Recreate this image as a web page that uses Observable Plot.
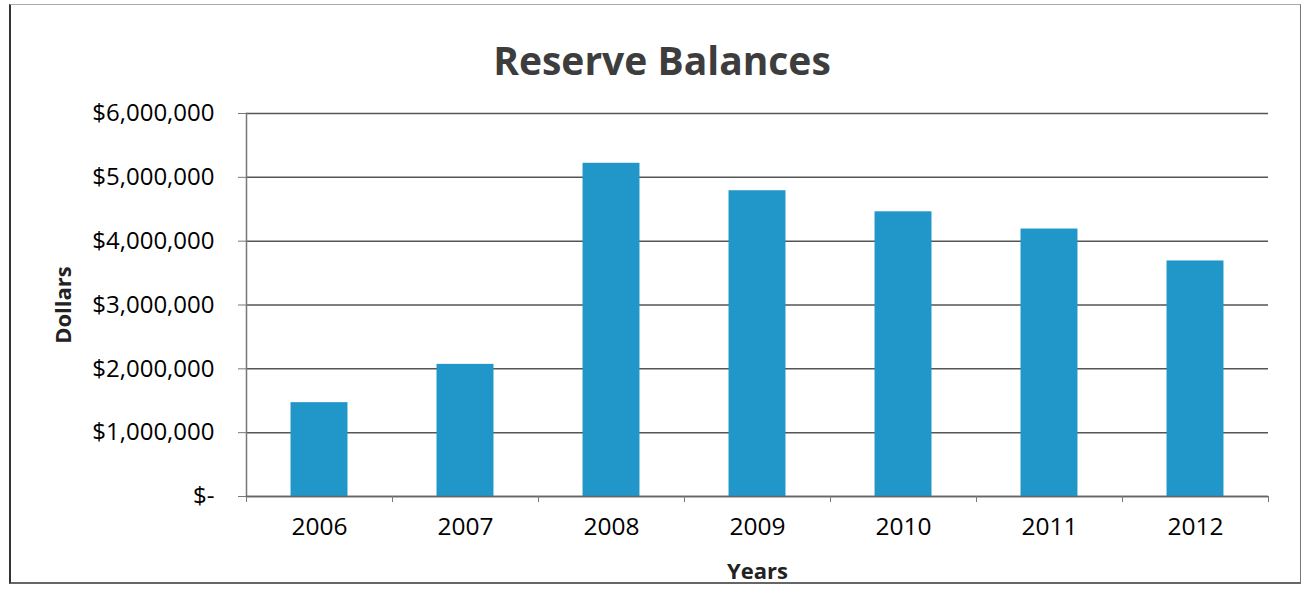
<!DOCTYPE html>
<html>
<head>
<meta charset="utf-8">
<script src="https://cdn.jsdelivr.net/npm/d3@7"></script>
<script src="https://cdn.jsdelivr.net/npm/@observablehq/plot@0.6"></script>
<style>
  html, body { margin: 0; padding: 0; background: #fff; }
  #wrap { position: relative; width: 1308px; height: 595px; overflow: hidden; font-family: "Open Sans", sans-serif; }
  #border { position: absolute; left: 9px; top: 4px; width: 1292px; height: 580px;
            border-top: 1px solid #aaa; border-left: 2px solid #333; border-right: 1px solid #777; border-bottom: 2px solid #666; box-sizing: border-box; }
  #title { position: absolute; left: 0; width: 1324px; top: 40px; text-align: center;
           font-family: "Open Sans", sans-serif; font-weight: 700; font-size: 39px; color: #3d3d3d; line-height: 1; }
  #chart { position: absolute; left: 0; top: 0; }
</style>
</head>
<body>
<div id="wrap">
  <div id="border"></div>
  <div id="title">Reserve Balances</div>
  <div id="chart"></div>
</div>
<script>
const years = [2006, 2007, 2008, 2009, 2010, 2011, 2012];
const balances = [1470000, 2070000, 5220000, 4790000, 4460000, 4190000, 3690000];
const yTicks = [0, 1000000, 2000000, 3000000, 4000000, 5000000, 6000000];
const xTitle = "Years";
const yTitle = "Dollars";

const data = years.map((year, i) => ({year, value: balances[i]}));
const half = 0.195;
const bounds = [years[0] - 0.5, ...years.map(y => y + 0.5)];
const fmt = d3.format(",");

const chart = Plot.plot({
  width: 1308,
  height: 595,
  marginLeft: 246,
  marginRight: 40,
  marginTop: 113,
  marginBottom: 99,
  style: {fontFamily: "Open Sans, sans-serif", background: "transparent", color: "#000"},
  x: {domain: [bounds[0], bounds[bounds.length - 1]]},
  y: {domain: [0, 6000000]},
  marks: [
    Plot.gridY(yTicks, {stroke: "#555", strokeOpacity: 1, strokeWidth: 1.5}),
    Plot.rectY(data, {x1: d => d.year - half, x2: d => d.year + half, y: "value", fill: "#2196c8"}),
    Plot.frame({anchor: "left", stroke: "#777", strokeWidth: 1.5}),
    Plot.ruleY([0], {stroke: "#666", strokeWidth: 1.5}),
    Plot.axisY(yTicks, {
      tickSize: 8, tickPadding: 24, stroke: "#777", fontSize: 24, fill: "#000",
      tickFormat: d => d === 0 ? "$-" : "$" + fmt(d), label: null
    }),
    Plot.axisX(bounds, {tickSize: 6, stroke: "#777", tickFormat: () => "", label: null}),
    Plot.axisX(years, {tickSize: 0, tickPadding: 21, fontSize: 24.5, fill: "#000", tickFormat: d => String(d), label: null}),
    Plot.text([yTitle], {frameAnchor: "left", dx: -183, rotate: -90, fontSize: 22, fontWeight: 700, fill: "#222", textAnchor: "middle"}),
    Plot.text([xTitle], {frameAnchor: "bottom", dy: 75, fontSize: 22, fontWeight: 700, fill: "#222", lineAnchor: "middle"})
  ]
});
document.getElementById("chart").appendChild(chart);
</script>
</body>
</html>
